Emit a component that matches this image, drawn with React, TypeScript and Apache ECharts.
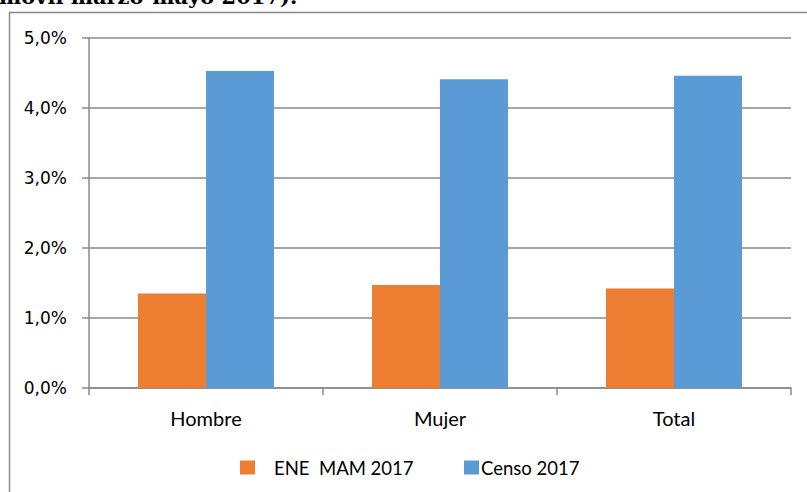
import React, { useEffect, useRef } from "react";
import * as echarts from "echarts";

const categories = ["Hombre", "Mujer", "Total"];
const eneValues = [1.35, 1.47, 1.42];
const censoValues = [4.53, 4.41, 4.46];
const seriesNames = ["ENE  MAM 2017", "Censo 2017"];
const titleText = "móvil marzo-mayo 2017).";

const fmt = (v: number) => v.toFixed(1).replace(".", ",") + "%";

export default function App() {
  const ref = useRef<HTMLDivElement>(null);
  useEffect(() => {
    document.body.style.margin = "0";
    const chart = echarts.init(ref.current!, null, { renderer: "svg" });
    const labelFont = "Lato, 'Open Sans', sans-serif";
    chart.setOption({
      animation: false,
      backgroundColor: "#ffffff",
      graphic: [
        {
          type: "rect",
          shape: { x: 9.5, y: 12.5, width: 820, height: 520 },
          style: { fill: "none", stroke: "#8a8a8a", lineWidth: 1.5 },
          z: -1,
        },
        {
          type: "text",
          x: -1,
          y: 7,
          style: {
            text: titleText,
            font: "bold 21px 'DejaVu Serif', serif",
            fill: "#000",
            verticalAlign: "bottom",
            align: "left",
          },
        },
      ],
      legend: [
        {
          data: [seriesNames[0]],
          left: 235,
          top: 453,
          itemWidth: 15,
          itemHeight: 14,
          icon: "rect",
          textStyle: { fontFamily: labelFont, fontSize: 18.5, color: "#000", padding: [0, 0, 0, 14] },
        },
        {
          data: [seriesNames[1]],
          left: 459,
          top: 453,
          itemWidth: 15,
          itemHeight: 14,
          icon: "rect",
          textStyle: { fontFamily: labelFont, fontSize: 18.5, color: "#000", padding: [0, 0, 0, -3] },
        },
      ],
      grid: { left: 89, right: 16, top: 38, bottom: 104, containLabel: false },
      xAxis: {
        type: "category",
        data: categories,
        axisLine: { lineStyle: { color: "#8a8a8a", width: 1.5 } },
        axisTick: { show: true, length: 7, lineStyle: { color: "#8a8a8a", width: 1.5 } },
        axisLabel: { fontFamily: labelFont, fontSize: 20, color: "#000", margin: 20 },
      },
      yAxis: {
        type: "value",
        min: 0,
        max: 5,
        interval: 1,
        axisLine: { show: true, lineStyle: { color: "#8a8a8a", width: 1.5 } },
        axisTick: { show: true, length: 7, lineStyle: { color: "#8a8a8a", width: 1.5 } },
        splitLine: { lineStyle: { color: "#8a8a8a", width: 1.5 } },
        axisLabel: {
          formatter: fmt,
          fontFamily: "'DejaVu Sans', sans-serif",
          fontSize: 17,
          color: "#000",
          margin: 22,
        },
      },
      series: [
        {
          name: seriesNames[0],
          type: "bar",
          data: eneValues,
          barWidth: 68,
          barGap: "0%",
          itemStyle: { color: "#ED7D31" },
        },
        {
          name: seriesNames[1],
          type: "bar",
          data: censoValues,
          barWidth: 68,
          barGap: "0%",
          itemStyle: { color: "#5B9BD5" },
        },
      ],
    });
    return () => chart.dispose();
  }, []);
  return <div ref={ref} style={{ width: 807, height: 492 }} />;
}
